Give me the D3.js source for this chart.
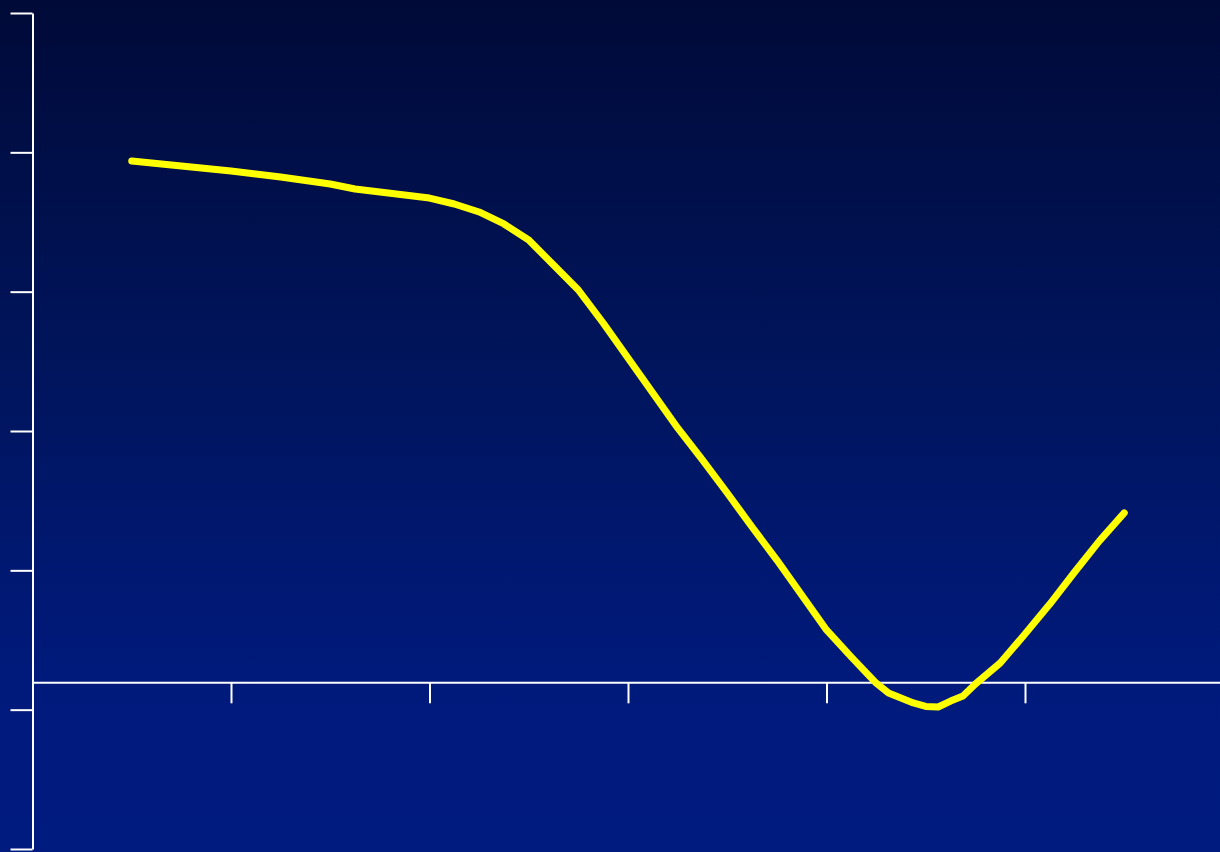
<!DOCTYPE html>
<html>
<head>
<meta charset="utf-8">
<script src="https://cdn.jsdelivr.net/npm/d3@7"></script>
<style>
html,body{margin:0;padding:0;background:#001a7e;overflow:hidden;}
svg{display:block;}
</style>
</head>
<body>
<svg id="chart" width="1220" height="852"></svg>
<script>
// Data (x in axis units, y in axis units; axis crosses at baselineY)
const xValues = [0.5,0.625,0.75,0.875,1,1.125,1.25,1.375,1.5,1.625,1.75,1.875,2,2.125,2.25,2.375,2.5,2.625,2.75,2.875,3,3.125,3.25,3.375,3.5,3.625,3.75,3.875,4,4.125,4.25,4.3125,4.375,4.4375,4.5,4.5625,4.625,4.6875,4.75,4.875,5,5.125,5.25,5.375,5.5];
const yValues = [4.938,4.920,4.902,4.884,4.866,4.845,4.823,4.798,4.773,4.737,4.715,4.694,4.672,4.629,4.572,4.486,4.371,4.191,4.012,3.775,3.524,3.273,3.022,2.792,2.555,2.311,2.074,1.823,1.572,1.378,1.191,1.120,1.084,1.048,1.023,1.019,1.062,1.098,1.184,1.335,1.543,1.758,1.988,2.211,2.412];
const xTicks = [1,2,3,4,5];
const yTicks = [0,1,2,3,4,5,6];
const baselineY = 1.2;

const svg = d3.select("#chart");
const W = 1220, H = 852;

const defs = svg.append("defs");
const grad = defs.append("linearGradient").attr("id","bg").attr("x1",0).attr("y1",0).attr("x2",0).attr("y2",1);
grad.append("stop").attr("offset","0%").attr("stop-color","#000a38");
grad.append("stop").attr("offset","45%").attr("stop-color","#00155e");
grad.append("stop").attr("offset","80%").attr("stop-color","#001a7c");
grad.append("stop").attr("offset","100%").attr("stop-color","#001b80");
svg.append("rect").attr("width",W).attr("height",H).attr("fill","url(#bg)");

const x = d3.scaleLinear().domain([0,6]).range([32.5,1223.5]);
const y = d3.scaleLinear().domain([0,6]).range([849,13]);

const yAxis = d3.axisLeft(y).tickValues(yTicks).tickSize(22).tickSizeOuter(0).tickFormat("");
const gy = svg.append("g").attr("transform",`translate(${x(0)},0)`).call(yAxis);
gy.selectAll("path,line").attr("stroke","#fff").attr("stroke-width",2);

const xAxis = d3.axisBottom(x).tickValues(xTicks).tickSize(21).tickSizeOuter(0).tickFormat("");
const gx = svg.append("g").attr("transform",`translate(0,${y(baselineY)+0.5})`).call(xAxis);
gx.selectAll("path,line").attr("stroke","#fff").attr("stroke-width",2);

const pts = xValues.map((v,i)=>[v,yValues[i]]);
const line = d3.line().x(d=>x(d[0])).y(d=>y(d[1]));
svg.append("path").datum(pts).attr("d",line)
  .attr("fill","none").attr("stroke","#ffff00").attr("stroke-width",7)
  .attr("stroke-linecap","round").attr("stroke-linejoin","round");
</script>
</body>
</html>
